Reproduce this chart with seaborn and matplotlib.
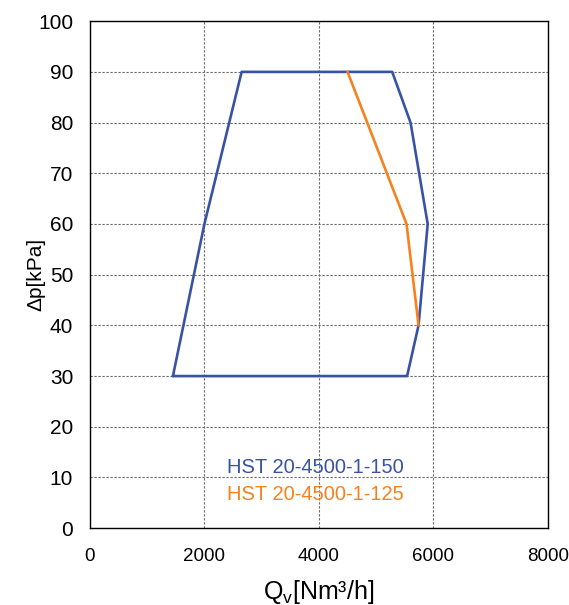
import matplotlib
matplotlib.use("Agg")
import matplotlib.pyplot as plt
import seaborn as sns
import pandas as pd

# Data
blue_label = "HST 20-4500-1-150"
blue_q = [1450, 2000, 2650, 5280, 5600, 5900, 5740, 5540, 1450]
blue_dp = [30, 60, 90, 90, 80, 60, 40, 30, 30]

orange_label = "HST 20-4500-1-125"
orange_q = [4500, 5530, 5740]
orange_dp = [90, 60, 40]

x_ticks = [0, 2000, 4000, 6000, 8000]
y_ticks = [0, 10, 20, 30, 40, 50, 60, 70, 80, 90, 100]

BLUE = "#3953A4"
ORANGE = "#F5821F"

sns.set_theme(style="white")
plt.rcParams["font.family"] = ["Liberation Sans", "DejaVu Sans"]
plt.rcParams["mathtext.fontset"] = "custom"
plt.rcParams["mathtext.rm"] = "Liberation Sans"

df = pd.concat([
    pd.DataFrame({"Q": blue_q, "dp": blue_dp, "series": blue_label, "order": range(len(blue_q))}),
    pd.DataFrame({"Q": orange_q, "dp": orange_dp, "series": orange_label, "order": range(len(orange_q))}),
], ignore_index=True)

fig = plt.figure(figsize=(5.69, 6.05), dpi=100)
ax = fig.add_axes([0.158, 0.127, 0.805, 0.838])

sns.lineplot(data=df, x="Q", y="dp", hue="series", units="series", estimator=None,
             sort=False, palette={blue_label: BLUE, orange_label: ORANGE},
             hue_order=[blue_label, orange_label], linewidth=1.9, ax=ax, legend=False)

ax.set_xlim(0, 8000)
ax.set_ylim(0, 100)
ax.set_xticks(x_ticks)
ax.set_yticks(y_ticks)
ax.grid(True, linestyle=(0, (2, 1.6)), color="#666666", linewidth=0.8)
for s in ax.spines.values():
    s.set_color("black")
    s.set_linewidth(1.0)
ax.tick_params(axis="both", colors="black", length=0)
ax.tick_params(axis="x", labelsize=13.5, pad=14)
ax.tick_params(axis="y", labelsize=15, pad=12)

ax.set_xlabel(r"$\mathregular{Q_v}$[Nm³/h]", fontsize=18, color="black")
ax.set_ylabel("Δp[kPa]", fontsize=15, color="black")
ax.xaxis.set_label_coords(0.5, -0.098)
ax.yaxis.set_label_coords(-0.098, 0.5)

ax.text(0.30, 0.119, blue_label, transform=ax.transAxes, color=BLUE, fontsize=14.5, va="center", ha="left")
ax.text(0.30, 0.066, orange_label, transform=ax.transAxes, color=ORANGE, fontsize=14.5, va="center", ha="left")

fig.savefig("out.png", dpi=100)
